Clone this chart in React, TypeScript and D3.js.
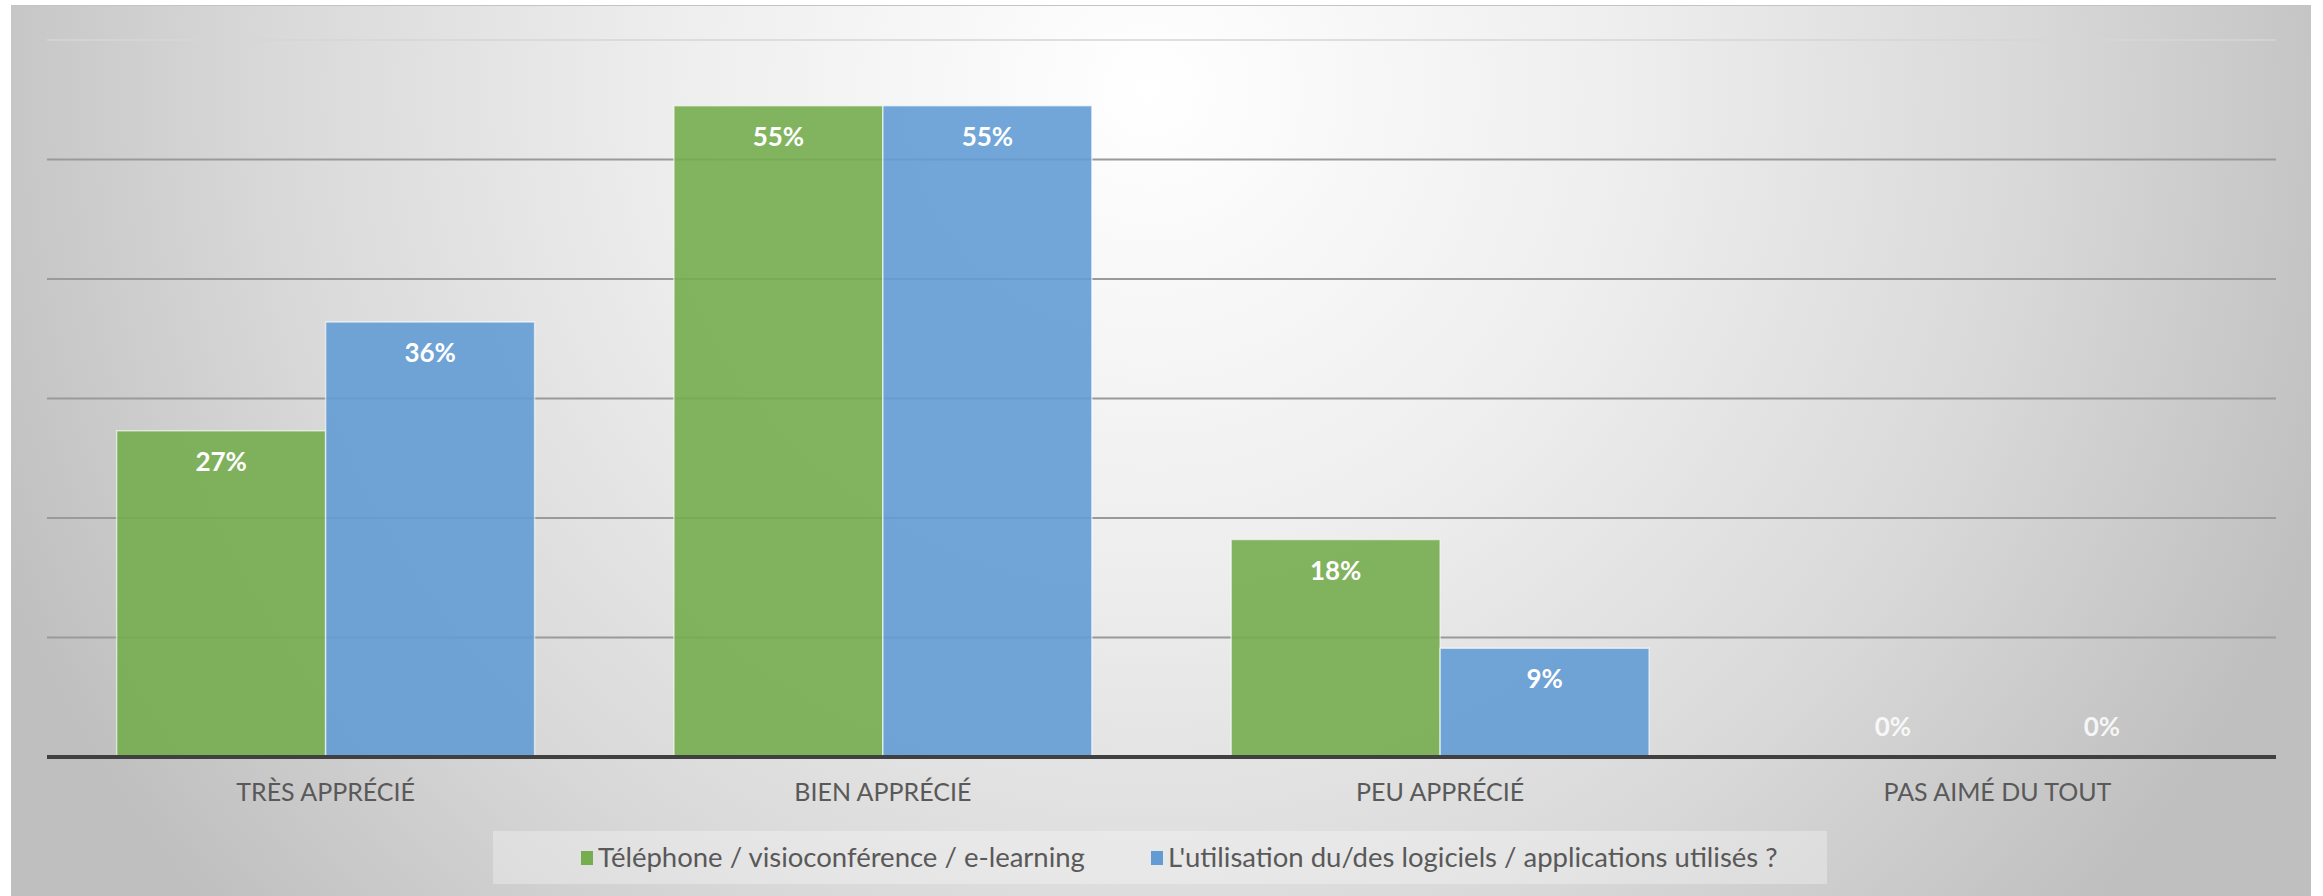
import React from "react";
import * as d3 from "d3";

const categories = ["TRÈS APPRÉCIÉ", "BIEN APPRÉCIÉ", "PEU APPRÉCIÉ", "PAS AIMÉ DU TOUT"];
const seriesNames = [
  "Téléphone / visioconférence / e-learning",
  "L'utilisation du/des logiciels / applications utilisés ?",
];
const phoneValues = [0.273, 0.545, 0.182, 0];
const softwareValues = [0.364, 0.545, 0.091, 0];
const yTicks = [0.1, 0.2, 0.3, 0.4, 0.5, 0.6];
const seriesColors = ["#75ad4f", "#639cd5"];

const W = 2323;
const H = 896;

export default function App() {
  const x = d3.scaleBand<string>().domain(categories).range([47, 2276]).paddingInner(0).paddingOuter(0);
  const bw = x.bandwidth();
  const xs = d3.scaleBand<number>().domain([0, 1]).range([0.125 * bw, 0.875 * bw]).padding(0);
  const y = d3.scaleLinear().domain([0, 0.6]).range([757, 40]);
  const fmt = d3.format(".0%");
  const series = [phoneValues, softwareValues];

  const legendItems = [
    { name: seriesNames[0], color: seriesColors[0], sx: 581 },
    { name: seriesNames[1], color: seriesColors[1], sx: 1151 },
  ];

  return (
    <svg
      width={W}
      height={H}
      style={{ position: "absolute", left: 0, top: 0, display: "block" }}
      fontFamily="Lato, 'Open Sans', sans-serif"
    >
      <defs>
        <radialGradient id="bg" gradientUnits="userSpaceOnUse" cx={1150} cy={90} r={1250}>
          <stop offset="0" stopColor="#ffffff" />
          <stop offset="0.38" stopColor="#eeeeee" />
          <stop offset="0.7" stopColor="#d9d9d9" />
          <stop offset="1" stopColor="#bfbfbf" />
        </radialGradient>
      </defs>
      <rect x={0} y={0} width={W} height={H} fill="#ffffff" />
      <rect x={11} y={5} width={2300} height={H - 5} fill="url(#bg)" />
      <line x1={11} x2={2311} y1={5.5} y2={5.5} stroke="#c4c4c4" strokeWidth={1} />

      {/* gridlines */}
      {yTicks.map((t) => (
        <line
          key={t}
          x1={47}
          x2={2276}
          y1={y(t)}
          y2={y(t)}
          stroke={t === 0.6 ? "#d6d6d6" : "#9a9a9a"}
          strokeWidth={t === 0.6 ? 1.5 : 2}
        />
      ))}

      {/* bars */}
      {categories.map((c, ci) =>
        series.map((vals, si) => {
          const v = vals[ci];
          const bx = (x(c) as number) + (xs(si) as number);
          const top = y(v);
          const h = y(0) - top;
          return (
            <g key={c + si}>
              {h > 0 && (
                <rect
                  x={bx}
                  y={top}
                  width={xs.bandwidth()}
                  height={h}
                  fill={seriesColors[si]}
                  fillOpacity={0.9}
                  stroke="#ffffff"
                  strokeOpacity={0.6}
                  strokeWidth={1.5}
                />
              )}
            </g>
          );
        })
      )}

      {/* axis */}
      <line x1={47} x2={2276} y1={757} y2={757} stroke="#404040" strokeWidth={4} />

      {/* value labels */}
      {categories.map((c, ci) =>
        series.map((vals, si) => {
          const v = vals[ci];
          const cx = (x(c) as number) + (xs(si) as number) + xs.bandwidth() / 2;
          const by = v > 0 ? y(v) + 40 : y(0) - 21;
          return (
            <text
              key={"l" + c + si}
              x={cx}
              y={by}
              textAnchor="middle"
              fontSize={26}
              fontWeight={700}
              fill="#ffffff"
              fillOpacity={v > 0 ? 1 : 0.85}
            >
              {fmt(v)}
            </text>
          );
        })
      )}

      {/* category labels */}
      {categories.map((c) => (
        <text
          key={"c" + c}
          x={(x(c) as number) + bw / 2}
          y={801}
          textAnchor="middle"
          fontSize={25}
          fill="#595959"
        >
          {c}
        </text>
      ))}

      {/* legend */}
      <rect x={493} y={831} width={1334} height={53} fill="#ffffff" fillOpacity={0.3} />
      {legendItems.map((it) => (
        <g key={it.name}>
          <rect x={it.sx} y={851} width={12} height={14} fill={it.color} />
          <text x={it.sx + 17} y={867} fontSize={27.5} fill="#595959">
            {it.name}
          </text>
        </g>
      ))}
    </svg>
  );
}
